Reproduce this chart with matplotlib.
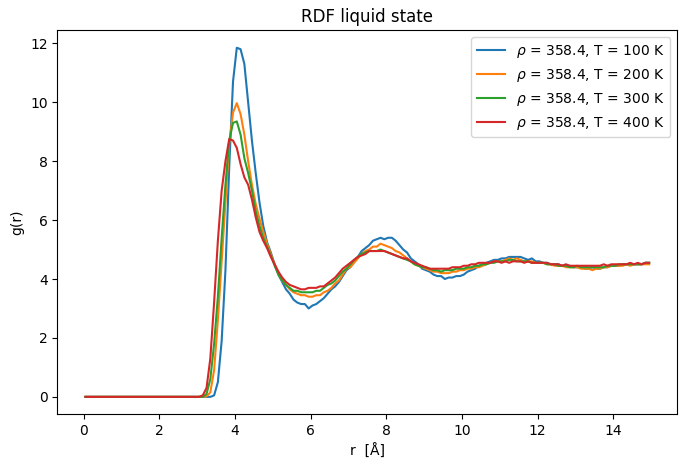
import numpy as np
import matplotlib
matplotlib.use("Agg")
import matplotlib.pyplot as plt

# g(r), r = 0.05 ... 14.95 in steps of 0.1
# first 30 bins (r < 3.0) are all zero
zeros = [0.0] * 30

g100 = zeros + [
    0, 0, 0, 0, 0.05, 0.5, 1.9, 4.3, 7.8, 10.7,
    11.85, 11.8, 11.3, 10.0, 8.7, 7.6, 6.6, 5.8, 5.25, 4.9,
    4.5, 4.15, 3.9, 3.65, 3.5, 3.3, 3.2, 3.15, 3.15, 3.0,
    3.1, 3.15, 3.25, 3.35, 3.5, 3.65, 3.75, 3.9, 4.1, 4.3,
    4.4, 4.6, 4.75, 4.95, 5.05, 5.15, 5.3, 5.35, 5.4, 5.35,
    5.4, 5.4, 5.3, 5.15, 5.0, 4.9, 4.7, 4.6, 4.5, 4.35,
    4.3, 4.25, 4.15, 4.1, 4.1, 4.0, 4.05, 4.05, 4.1, 4.1,
    4.15, 4.25, 4.3, 4.35, 4.45, 4.5, 4.55, 4.6, 4.65, 4.65,
    4.7, 4.7, 4.75, 4.75, 4.75, 4.75, 4.7, 4.65, 4.7, 4.6,
    4.6, 4.55, 4.55, 4.5, 4.5, 4.5, 4.45, 4.45, 4.45, 4.4,
    4.4, 4.4, 4.35, 4.35, 4.4, 4.35, 4.35, 4.4, 4.4, 4.45,
    4.45, 4.45, 4.5, 4.5, 4.5, 4.5, 4.5, 4.5, 4.55, 4.55,
]

g200 = zeros + [
    0, 0, 0.02, 0.15, 0.9, 2.6, 4.6, 6.6, 8.6, 9.65,
    9.97, 9.6, 8.9, 8.0, 7.2, 6.55, 6.05, 5.6, 5.2, 4.85,
    4.5, 4.2, 3.95, 3.8, 3.65, 3.55, 3.5, 3.45, 3.45, 3.4,
    3.4, 3.45, 3.45, 3.55, 3.6, 3.7, 3.85, 3.95, 4.15, 4.35,
    4.4, 4.55, 4.7, 4.85, 4.95, 5.0, 5.1, 5.1, 5.2, 5.15,
    5.1, 5.05, 4.95, 4.9, 4.8, 4.7, 4.6, 4.5, 4.45, 4.4,
    4.35, 4.3, 4.25, 4.25, 4.2, 4.2, 4.2, 4.25, 4.25, 4.3,
    4.3, 4.35, 4.35, 4.4, 4.4, 4.45, 4.5, 4.55, 4.6, 4.6,
    4.6, 4.65, 4.7, 4.65, 4.7, 4.65, 4.6, 4.6, 4.6, 4.55,
    4.55, 4.55, 4.5, 4.5, 4.45, 4.45, 4.45, 4.4, 4.4, 4.4,
    4.4, 4.35, 4.35, 4.35, 4.3, 4.35, 4.35, 4.4, 4.4, 4.45,
    4.45, 4.45, 4.45, 4.5, 4.45, 4.5, 4.5, 4.5, 4.5, 4.5,
]

g300 = zeros + [
    0, 0, 0.1, 0.6, 1.8, 3.4, 5.4, 7.2, 8.7, 9.3,
    9.35, 8.9, 8.1, 7.6, 7.0, 6.3, 5.8, 5.4, 5.1, 4.8,
    4.45, 4.15, 3.95, 3.8, 3.7, 3.6, 3.6, 3.55, 3.55, 3.55,
    3.55, 3.6, 3.6, 3.7, 3.8, 3.85, 3.95, 4.1, 4.25, 4.35,
    4.5, 4.65, 4.75, 4.85, 4.9, 4.95, 4.95, 4.95, 5.0, 4.95,
    4.9, 4.85, 4.8, 4.75, 4.7, 4.65, 4.6, 4.5, 4.45, 4.4,
    4.4, 4.35, 4.3, 4.3, 4.25, 4.3, 4.3, 4.3, 4.35, 4.35,
    4.35, 4.4, 4.4, 4.45, 4.45, 4.5, 4.5, 4.55, 4.55, 4.6,
    4.6, 4.6, 4.65, 4.65, 4.6, 4.6, 4.6, 4.6, 4.55, 4.55,
    4.55, 4.55, 4.5, 4.5, 4.5, 4.45, 4.45, 4.45, 4.4, 4.4,
    4.45, 4.4, 4.4, 4.4, 4.4, 4.4, 4.4, 4.4, 4.45, 4.45,
    4.45, 4.5, 4.5, 4.5, 4.5, 4.5, 4.5, 4.5, 4.55, 4.55,
]

g400 = zeros + [
    0, 0.05, 0.3, 1.3, 3.2, 5.3, 7.0, 8.0, 8.75, 8.7,
    8.45, 7.9, 7.45, 7.2, 6.7, 6.1, 5.6, 5.3, 5.05, 4.75,
    4.5, 4.25, 4.05, 3.9, 3.8, 3.75, 3.7, 3.65, 3.65, 3.7,
    3.7, 3.7, 3.75, 3.75, 3.85, 3.95, 4.05, 4.2, 4.35, 4.45,
    4.55, 4.65, 4.75, 4.8, 4.85, 4.95, 4.95, 4.95, 4.95, 4.95,
    4.9, 4.85, 4.8, 4.75, 4.7, 4.7, 4.6, 4.55, 4.5, 4.45,
    4.4, 4.35, 4.35, 4.35, 4.35, 4.35, 4.35, 4.4, 4.4, 4.4,
    4.45, 4.45, 4.5, 4.5, 4.55, 4.55, 4.55, 4.55, 4.6, 4.6,
    4.55, 4.6, 4.55, 4.6, 4.6, 4.6, 4.55, 4.6, 4.55, 4.55,
    4.55, 4.55, 4.55, 4.5, 4.5, 4.5, 4.45, 4.5, 4.45, 4.45,
    4.45, 4.45, 4.45, 4.45, 4.45, 4.45, 4.45, 4.5, 4.45, 4.5,
    4.5, 4.5, 4.5, 4.5, 4.55, 4.5, 4.55, 4.5, 4.55, 4.55,
]

temperatures = [100, 200, 300, 400]
rho = 358.4

r = 0.05 + 0.1 * np.arange(len(g100))

fig = plt.figure(figsize=(6.87, 4.69), dpi=100)
ax = fig.add_axes([0.0834, 0.1166, 0.9025, 0.8188])

for T, g in zip(temperatures, [g100, g200, g300, g400]):
    ax.plot(r, g, label=r'$\rho$ = %.1f, T = %d K' % (rho, T))

ax.set_title('RDF liquid state')
ax.set_xlabel('r  [Å]')
ax.set_ylabel('g(r)')
ax.legend(loc='upper right')

fig.savefig('out.png', dpi=100)
